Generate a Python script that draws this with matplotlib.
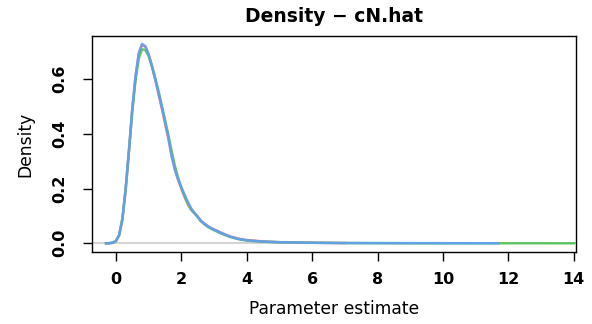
import matplotlib
matplotlib.use("Agg")
import matplotlib.pyplot as plt

plt.rcParams['font.family'] = ['DejaVu Sans']

# kernel density of cN.hat, one curve per chain
grid = [-0.3, -0.2, -0.1, 0.0, 0.1, 0.2, 0.3, 0.4, 0.5, 0.6, 0.7, 0.8, 0.9,
        1.0, 1.1, 1.2, 1.3, 1.4, 1.5, 1.6, 1.7, 1.8, 1.9, 2.0, 2.1, 2.2,
        2.3, 2.4, 2.5, 2.6, 2.7, 2.8, 2.9, 3.0, 3.25, 3.5, 3.75, 4.0, 4.5,
        5.0, 6.0, 7.0]
dens_red = [0.0, 0.0005, 0.002, 0.008, 0.029, 0.088, 0.195, 0.335, 0.485,
            0.605, 0.69, 0.725, 0.718, 0.69, 0.648, 0.60, 0.548, 0.495,
            0.44, 0.385, 0.325, 0.272, 0.232, 0.200, 0.170, 0.142, 0.122,
            0.110, 0.098, 0.083, 0.073, 0.064, 0.057, 0.051, 0.037, 0.025,
            0.017, 0.012, 0.007, 0.004, 0.002, 0.001]
dens_green = [0.0, 0.0005, 0.002, 0.008, 0.030, 0.090, 0.200, 0.338, 0.48,
              0.595, 0.675, 0.708, 0.706, 0.684, 0.648, 0.605, 0.558, 0.505,
              0.452, 0.398, 0.340, 0.285, 0.240, 0.204, 0.172, 0.146, 0.124,
              0.110, 0.096, 0.080, 0.070, 0.061, 0.054, 0.048, 0.034, 0.023,
              0.015, 0.010, 0.006, 0.004, 0.002, 0.001]
dens_blue = [0.0, 0.0005, 0.002, 0.008, 0.030, 0.090, 0.200, 0.340, 0.49,
             0.61, 0.695, 0.728, 0.720, 0.690, 0.648, 0.600, 0.550, 0.500,
             0.445, 0.390, 0.320, 0.270, 0.235, 0.205, 0.178, 0.152, 0.128,
             0.112, 0.097, 0.082, 0.072, 0.063, 0.056, 0.050, 0.036, 0.024,
             0.016, 0.011, 0.006, 0.004, 0.002, 0.001]

# long right tails
tail_x_green = [7.0, 8.0, 9.0, 10.0, 11.0, 12.0, 13.0, 14.0]
tail_y_green = [0.001, 0.0006, 0.0004, 0.0003, 0.0002, 0.0001, 0.0001, 0.0]
tail_x_blue = [7.0, 8.0, 9.0, 10.0, 11.0, 11.7]
tail_y_blue = [0.001, 0.0006, 0.0004, 0.0003, 0.0002, 0.0001]

xticks = [0, 2, 4, 6, 8, 10, 12, 14]
yticks = [0.0, 0.2, 0.4, 0.6]

fig = plt.figure(figsize=(5.92, 3.24), dpi=100)
ax = fig.add_axes([0.1554, 0.222, 0.8176, 0.667])

ax.axhline(0, color="#cccccc", lw=1.2, zorder=1)

ax.plot(grid, dens_red, color="#F8766D", lw=1.8, alpha=0.85, zorder=2)
ax.plot(grid + tail_x_green, dens_green + tail_y_green, color="#4CC24C",
        lw=1.8, alpha=0.85, zorder=3)
ax.plot(grid + tail_x_blue, dens_blue + tail_y_blue, color="#619CFF",
        lw=1.8, alpha=0.85, zorder=4)

ax.set_xlim(-0.73, 14.07)
ax.set_ylim(-0.032, 0.757)
ax.set_xticks(xticks)
ax.set_xticklabels([str(t) for t in xticks], fontweight="bold", fontsize=11.5)
ax.set_yticks(yticks)
ax.set_yticklabels(["%.1f" % t for t in yticks], fontweight="bold",
                   fontsize=11.5, rotation=90, va="center")
ax.tick_params(direction="out", length=6.5, width=1)
ax.tick_params(axis="x", pad=8)
ax.tick_params(axis="y", pad=11)

for s in ax.spines.values():
    s.set_linewidth(1)

ax.set_title("Density \u2212 cN.hat", fontsize=13.5, fontweight="bold",
             y=1.088, va="center", pad=0)
ax.set_xlabel("Parameter estimate", fontsize=12.3)
ax.set_ylabel("Density", fontsize=12.3)
ax.xaxis.set_label_coords(0.5, -0.264)
ax.xaxis.label.set_va("center")
ax.yaxis.set_label_coords(-0.138, 0.5)
ax.yaxis.label.set_va("center")

fig.savefig("out.png", dpi=100)
